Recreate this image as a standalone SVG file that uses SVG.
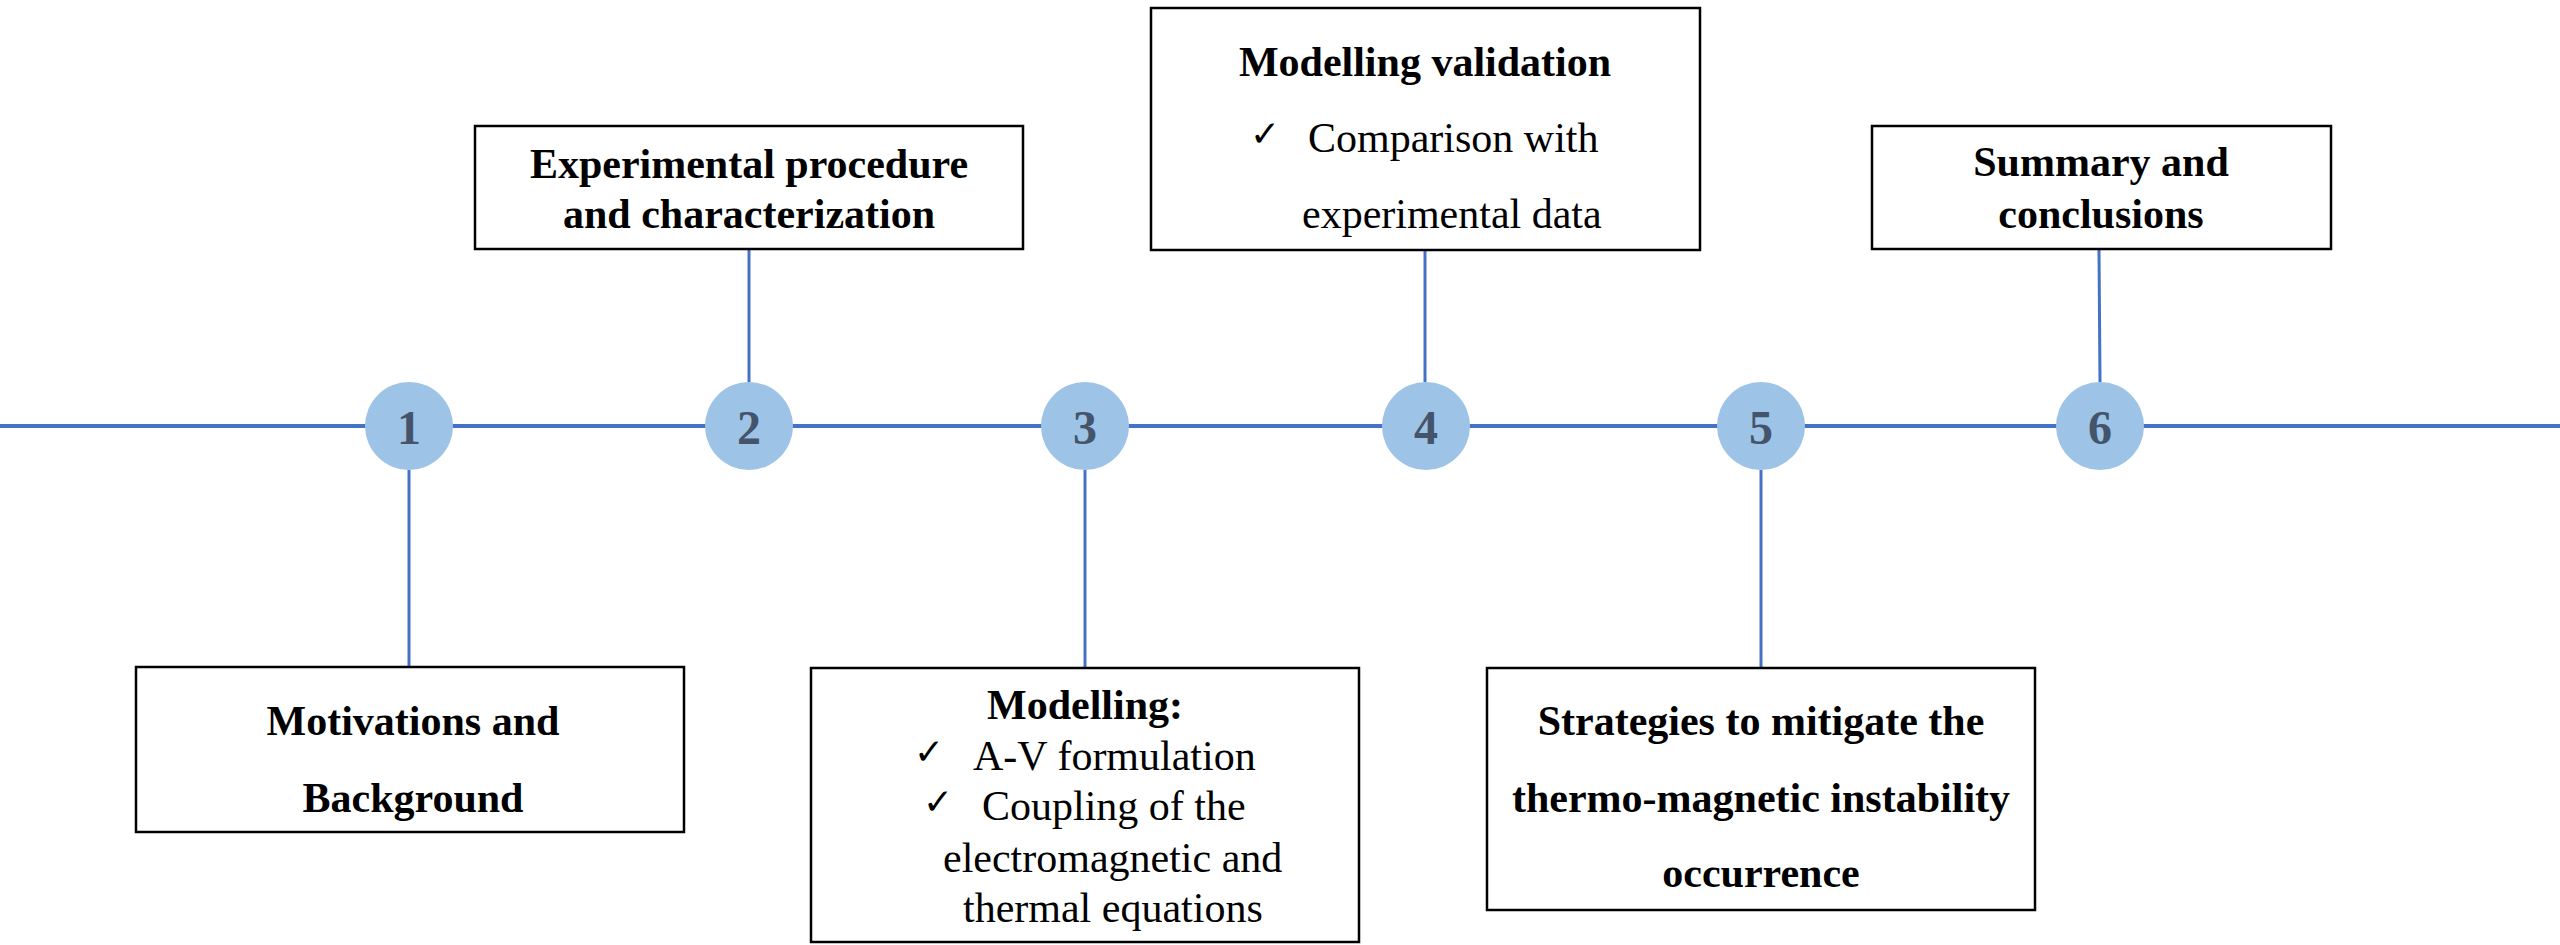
<svg xmlns="http://www.w3.org/2000/svg" width="2560" height="945" viewBox="0 0 2560 945">
  <style>
    .axis { stroke: #4472C4; stroke-width: 4; fill: none; }
    .link { stroke: #4472C4; stroke-width: 3; fill: none; }
    .dot { fill: #9DC3E6; }
    .num { font-family: "Liberation Serif", "Times New Roman", serif; font-weight: bold; font-size: 48px; fill: #44546A; text-anchor: middle; }
    .box { fill: #FFFFFF; stroke: #000000; stroke-width: 2.5; }
    .title { font-family: "Liberation Serif", "Times New Roman", serif; font-weight: bold; font-size: 42px; fill: #000000; text-anchor: middle; }
    .body { font-family: "Liberation Serif", "Times New Roman", serif; font-size: 42px; fill: #000000; }
    .tick { font-family: "DejaVu Sans", sans-serif; font-weight: bold; font-size: 36px; fill: #000000; }
  </style>

  <rect width="2560" height="945" fill="#FFFFFF"/>

  <!-- timeline axis and stems -->
  <g id="connectors">
    <line class="axis" x1="0" y1="426" x2="2560" y2="426"/>
    <line class="link" x1="409" y1="470" x2="409" y2="667"/>
    <line class="link" x1="749" y1="250" x2="749" y2="382"/>
    <line class="link" x1="1085" y1="470" x2="1085" y2="668"/>
    <line class="link" x1="1425" y1="251" x2="1425" y2="382"/>
    <line class="link" x1="1761" y1="470" x2="1761" y2="668"/>
    <line class="link" x1="2099" y1="250" x2="2100" y2="382"/>
  </g>

  <!-- numbered milestones -->
  <g id="step1"><circle class="dot" cx="409" cy="426" r="44"/><text class="num" x="409" y="444">1</text></g>
  <g id="step2"><circle class="dot" cx="749" cy="426" r="44"/><text class="num" x="749" y="444">2</text></g>
  <g id="step3"><circle class="dot" cx="1085" cy="426" r="44"/><text class="num" x="1085" y="444">3</text></g>
  <g id="step4"><circle class="dot" cx="1426" cy="426" r="44"/><text class="num" x="1426" y="444">4</text></g>
  <g id="step5"><circle class="dot" cx="1761" cy="426" r="44"/><text class="num" x="1761" y="444">5</text></g>
  <g id="step6"><circle class="dot" cx="2100" cy="426" r="44"/><text class="num" x="2100" y="444">6</text></g>

  <!-- section boxes -->
  <g id="motivations">
    <rect class="box" x="136" y="667" width="548" height="165"/>
    <text class="title" x="413" y="735">Motivations and</text>
    <text class="title" x="413" y="812">Background</text>
  </g>

  <g id="experimental">
    <rect class="box" x="475" y="126" width="548" height="123"/>
    <text class="title" x="749" y="178">Experimental procedure</text>
    <text class="title" x="749" y="228">and characterization</text>
  </g>

  <g id="modelling">
    <rect class="box" x="811" y="668" width="548" height="274"/>
    <text class="title" x="1085" y="719">Modelling:</text>
    <text class="tick" x="914" y="764">✓</text>
    <text class="body" x="973" y="770">A-V formulation</text>
    <text class="tick" x="923" y="814">✓</text>
    <text class="body" x="982" y="820">Coupling of the</text>
    <text class="body" x="943" y="872">electromagnetic and</text>
    <text class="body" x="963" y="922">thermal equations</text>
  </g>

  <g id="validation">
    <rect class="box" x="1151" y="8" width="549" height="242"/>
    <text class="title" x="1425" y="76">Modelling validation</text>
    <text class="tick" x="1250" y="146">✓</text>
    <text class="body" x="1308" y="152">Comparison with</text>
    <text class="body" x="1302" y="228">experimental data</text>
  </g>

  <g id="strategies">
    <rect class="box" x="1487" y="668" width="548" height="242"/>
    <text class="title" x="1761" y="735">Strategies to mitigate the</text>
    <text class="title" x="1761" y="812">thermo-magnetic instability</text>
    <text class="title" x="1761" y="887">occurrence</text>
  </g>

  <g id="summary">
    <rect class="box" x="1872" y="126" width="459" height="123"/>
    <text class="title" x="2101" y="176">Summary and</text>
    <text class="title" x="2101" y="228">conclusions</text>
  </g>
</svg>
